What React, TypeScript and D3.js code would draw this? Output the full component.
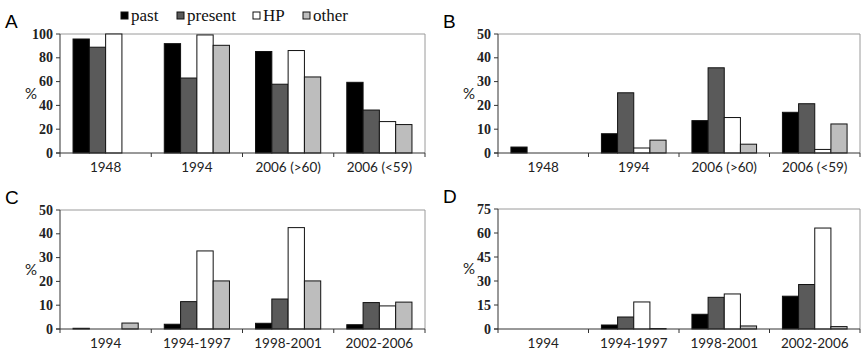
import * as d3 from 'd3';

// series order
const series = ['past', 'present', 'HP', 'other'];
const fills = ['#000000', '#5a5a5a', '#ffffff', '#bdbdbd'];

// panel A / B categories
const catsAB = ['1948', '1994', '2006 (>60)', '2006 (<59)'];
// panel C / D categories
const catsCD = ['1994', '1994-1997', '1998-2001', '2002-2006'];

// values per category: [past, present, HP, other]
const valuesA = [
  [95.8, 88.9, 100, 0],
  [91.9, 63, 99.2, 90.5],
  [85.3, 57.8, 86.1, 63.9],
  [59.4, 36.1, 26.4, 23.9],
];
const valuesB = [
  [2.5, 0, 0, 0],
  [8.1, 25.3, 2.1, 5.4],
  [13.6, 35.8, 14.9, 3.7],
  [17.1, 20.7, 1.5, 12.2],
];
const valuesC = [
  [0.3, 0, 0, 2.5],
  [2, 11.5, 32.8, 20.2],
  [2.4, 12.6, 42.6, 20.2],
  [1.8, 11.1, 9.7, 11.3],
];
const valuesD = [
  [0, 0, 0, 0],
  [2.5, 7.5, 16.9, 0.3],
  [9.2, 19.8, 21.9, 1.9],
  [20.5, 27.8, 63.1, 1.5],
];

const ticksA = [0, 20, 40, 60, 80, 100];
const ticksBC = [0, 10, 20, 30, 40, 50];
const ticksD = [0, 15, 30, 45, 60, 75];

const sans = 'Lato, "Open Sans", sans-serif';
const serif = '"Liberation Serif", "Times New Roman", serif';

type PanelProps = {
  label: string;
  cats: string[];
  values: number[][];
  ticks: number[];
  left: number;
  right: number;
  top: number;
  bottom: number;
};

const Panel = ({ label, cats, values, ticks, left, right, top, bottom }: PanelProps) => {
  const x = d3.scaleBand().domain(cats).range([left, right]).padding(0);
  const sub = d3
    .scaleBand()
    .domain(series)
    .range([0, x.bandwidth()])
    .paddingInner(0)
    .paddingOuter(0.8);
  const y = d3
    .scaleLinear()
    .domain([0, ticks[ticks.length - 1]])
    .range([bottom, top]);

  const boundaries = cats.map((c) => x(c)!).concat([right]);

  return (
    <g>
      <text x={left - 55} y={top - 6} fontFamily="Liberation Sans, Arial, sans-serif" fontSize={19}>
        {label}
      </text>
      <text x={left - 35} y={(top + bottom) / 2 + 5} fontFamily={sans} fontSize={15} fill="#222">
        %
      </text>
      {/* plot area frame */}
      <line x1={left} x2={right} y1={top} y2={top} stroke="#9a9a9a" />
      <line x1={right} x2={right} y1={top} y2={bottom} stroke="#9a9a9a" />
      {/* bars */}
      {cats.map((c, i) =>
        series.map((s, j) => {
          const v = values[i][j];
          if (v <= 0) return null;
          return (
            <rect
              key={c + s}
              x={x(c)! + sub(s)!}
              y={y(v)}
              width={sub.bandwidth()}
              height={bottom - y(v)}
              fill={fills[j]}
              stroke="#111"
              strokeWidth={1}
            />
          );
        })
      )}
      {/* y axis */}
      <line x1={left} x2={left} y1={top} y2={bottom} stroke="#333" />
      {ticks.map((t) => (
        <g key={t}>
          <line x1={left - 4} x2={left} y1={y(t)} y2={y(t)} stroke="#333" />
          <text
            x={left - 7}
            y={y(t) + 4.5}
            textAnchor="end"
            fontFamily={serif}
            fontWeight="bold"
            fontSize={14}
            fill="#222"
          >
            {t}
          </text>
        </g>
      ))}
      {/* x axis */}
      <line x1={left - 4} x2={right} y1={bottom} y2={bottom} stroke="#333" />
      {boundaries.map((b, i) => (
        <line key={i} x1={b} x2={b} y1={bottom} y2={bottom + 4} stroke="#333" />
      ))}
      {cats.map((c) => (
        <text
          key={c}
          x={x(c)! + x.bandwidth() / 2}
          y={bottom + 19}
          textAnchor="middle"
          fontFamily={sans}
          fontSize={13.5}
          fill="#222"
        >
          {c}
        </text>
      ))}
    </g>
  );
};

const Legend = () => {
  const xs = [121, 177, 253, 303];
  return (
    <g>
      {series.map((s, i) => (
        <g key={s}>
          <rect x={xs[i]} y={12} width={7} height={7} fill={fills[i]} stroke="#111" />
          <text x={xs[i] + 10} y={20.5} fontFamily={serif} fontSize={17} fill="#111">
            {s}
          </text>
        </g>
      ))}
    </g>
  );
};

export default function App() {
  return (
    <svg width={861} height={354} style={{ position: 'absolute', left: 0, top: 0 }}>
      <rect width={861} height={354} fill="#fff" />
      <Legend />
      <Panel label="A" cats={catsAB} values={valuesA} ticks={ticksA} left={60} right={425} top={34} bottom={153} />
      <Panel label="B" cats={catsAB} values={valuesB} ticks={ticksBC} left={498} right={860} top={34} bottom={153} />
      <Panel label="C" cats={catsCD} values={valuesC} ticks={ticksBC} left={60} right={425} top={210} bottom={329} />
      <Panel label="D" cats={catsCD} values={valuesD} ticks={ticksD} left={498} right={860} top={209} bottom={329} />
    </svg>
  );
}
